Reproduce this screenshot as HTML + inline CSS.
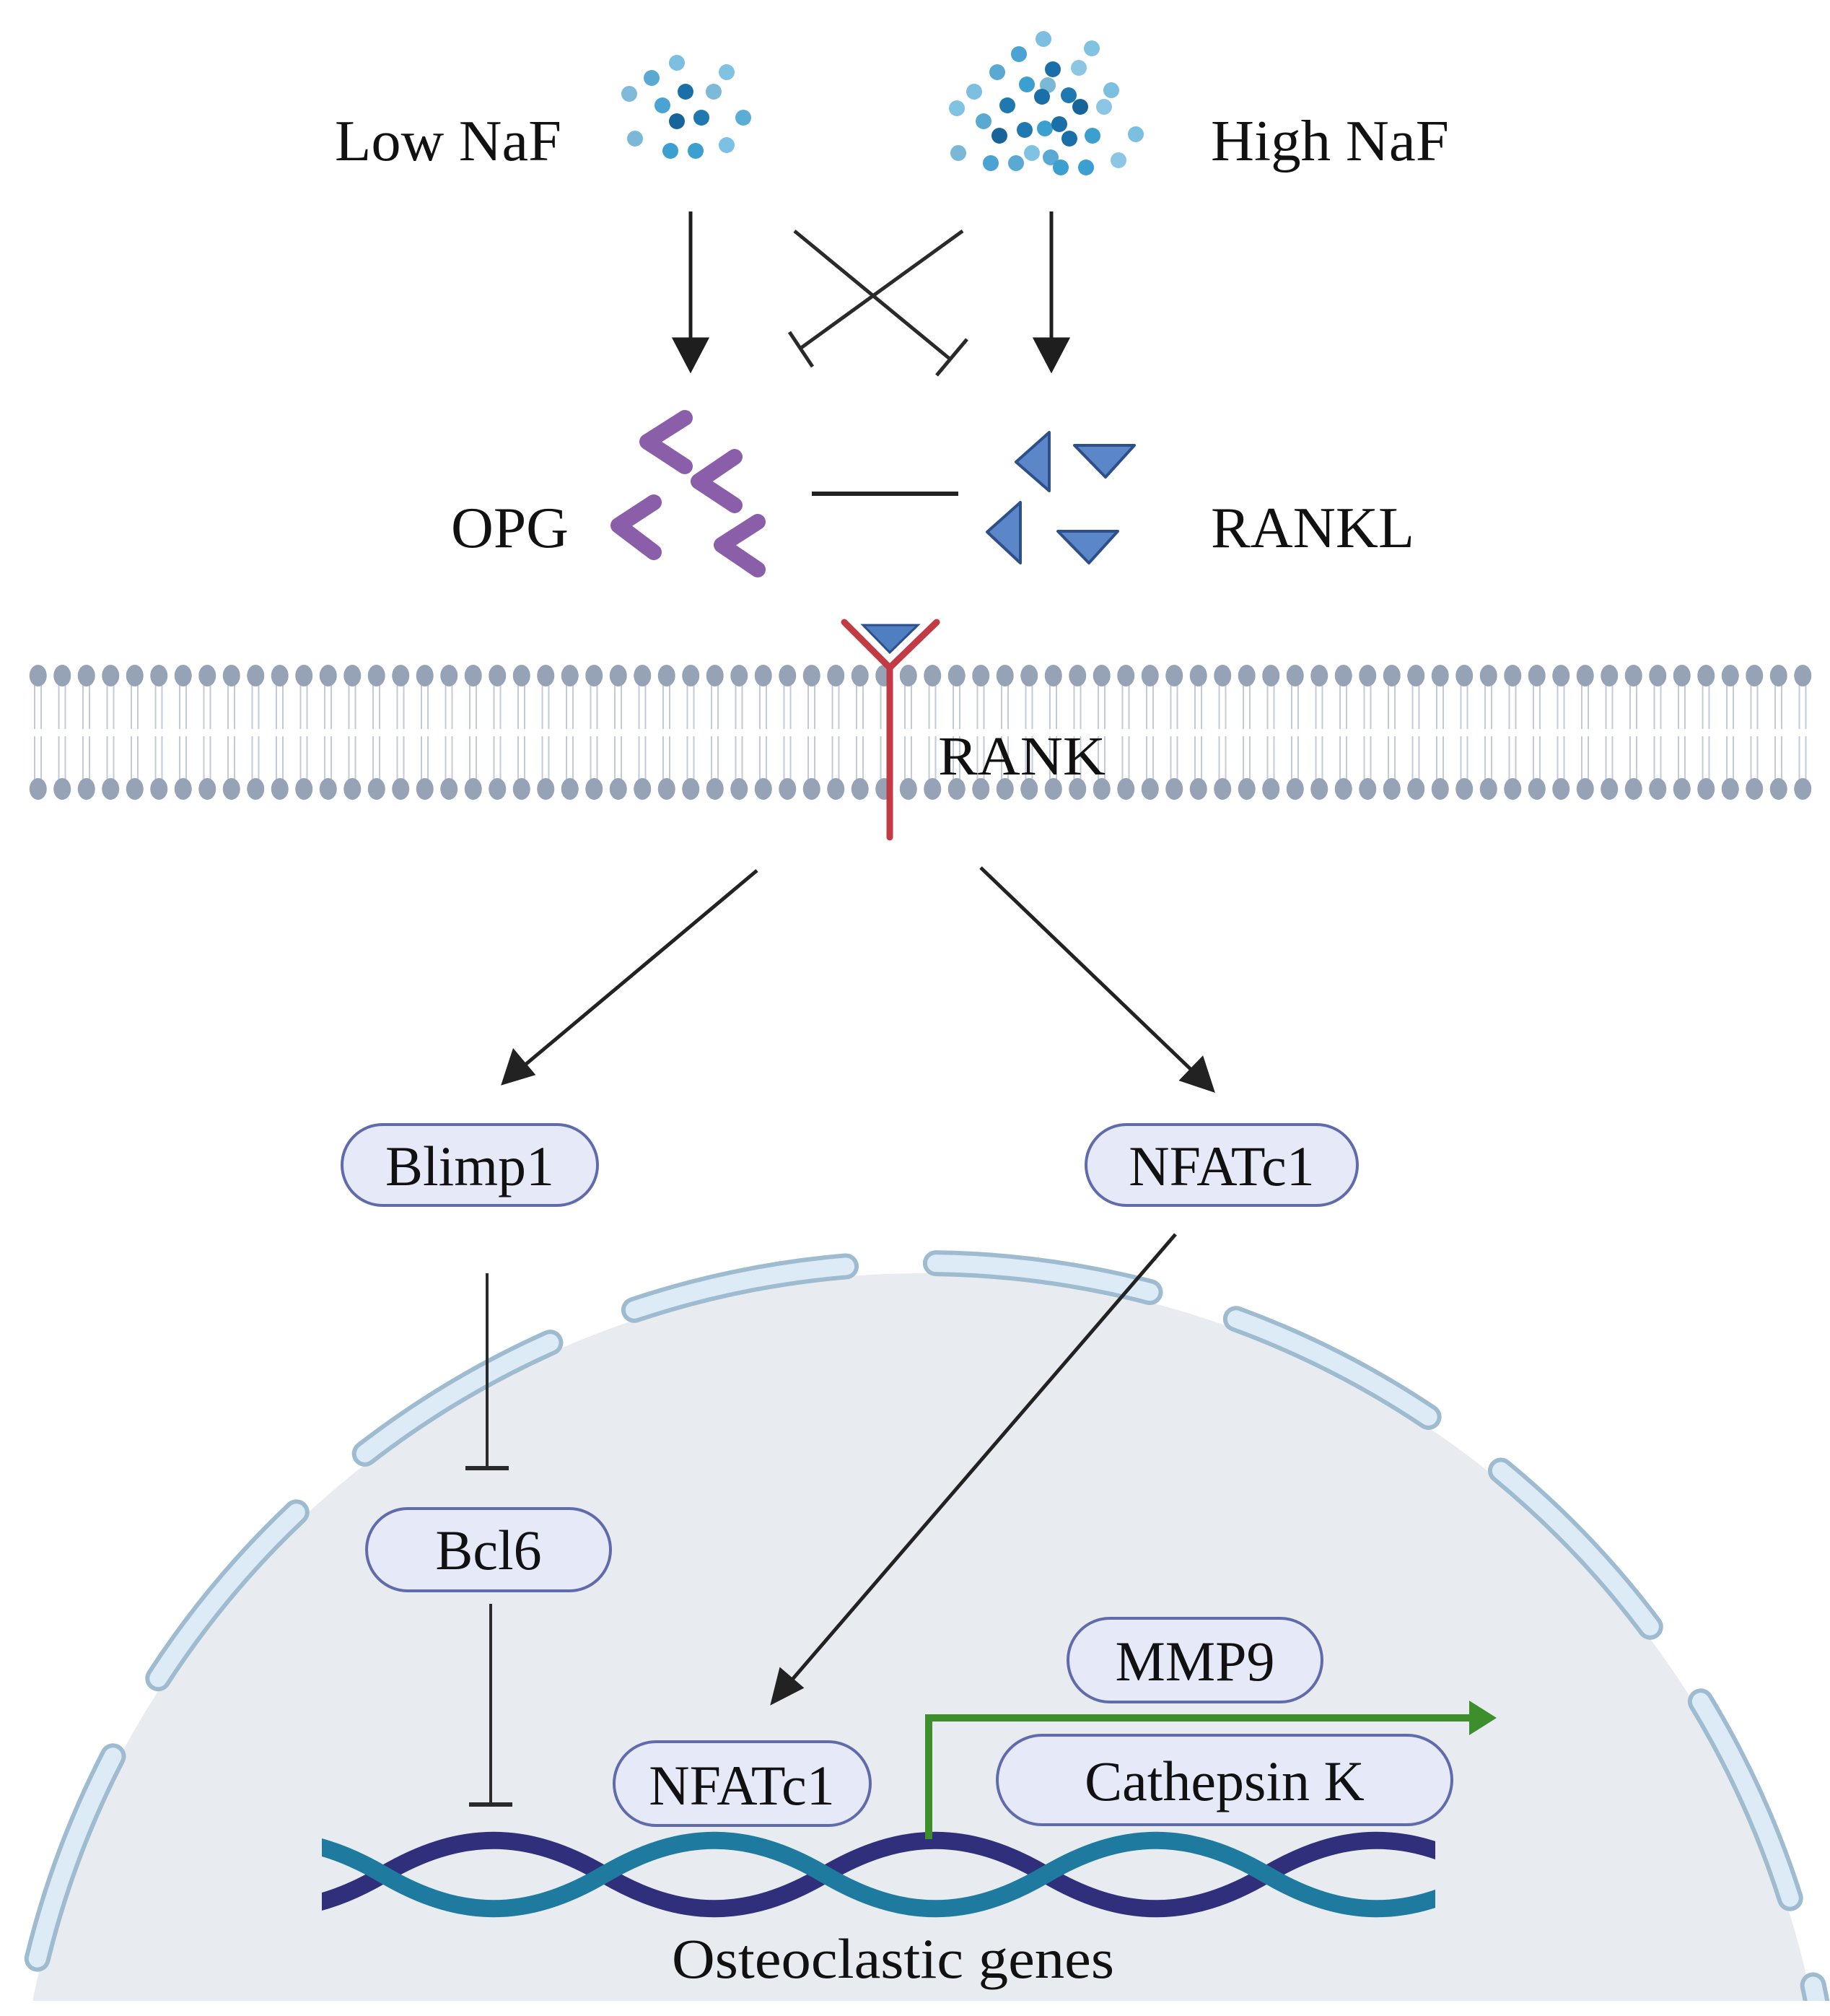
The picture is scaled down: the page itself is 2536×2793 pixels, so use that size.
<!DOCTYPE html>
<html><head><meta charset="utf-8"><style>
html,body{margin:0;padding:0;background:#fff;overflow:hidden;width:2536px;height:2793px;}
svg{display:block;}
text{font-family:"Liberation Serif",serif;fill:#111;}
</style></head><body>
<svg width="2536" height="2793" viewBox="0 0 2536 2793" xmlns="http://www.w3.org/2000/svg">
<defs>
<pattern id="mem" x="36" y="900" width="33.5" height="230" patternUnits="userSpaceOnUse">
<line x1="12" y1="40" x2="12" y2="110" stroke="#c3cad8" stroke-width="2"/>
<line x1="21" y1="40" x2="21" y2="110" stroke="#c3cad8" stroke-width="2"/>
<line x1="12" y1="120" x2="12" y2="190" stroke="#c3cad8" stroke-width="2"/>
<line x1="21" y1="120" x2="21" y2="190" stroke="#c3cad8" stroke-width="2"/>
<ellipse cx="16.75" cy="36" rx="12" ry="15" fill="#96a3b7"/>
<ellipse cx="16.75" cy="193" rx="12" ry="15" fill="#96a3b7"/>
</pattern>
<clipPath id="bot"><rect x="0" y="0" width="2536" height="2772"/></clipPath>
<clipPath id="dna"><rect x="446" y="2500" width="1543" height="200"/></clipPath>
</defs>

<!-- Nucleus -->
<g clip-path="url(#bot)">
<circle cx="1278" cy="3022" r="1258" fill="#e8ecf1"/>
<circle cx="1278" cy="3012" r="1262" fill="none" stroke="#9fbbd0" stroke-width="36" stroke-dasharray="300 125" stroke-dashoffset="266.5" stroke-linecap="round" transform="rotate(90 1278 3012)"/>
<circle cx="1278" cy="3012" r="1262" fill="none" stroke="#dcebf6" stroke-width="24" stroke-dasharray="300 125" stroke-dashoffset="266.5" stroke-linecap="round" transform="rotate(90 1278 3012)"/>
</g>

<!-- Membrane -->
<rect x="36" y="905" width="2475" height="205" fill="url(#mem)"/>

<!-- NaF dots low -->
<g>
<circle cx="938" cy="87" r="11" fill="#7cbfe0"/>
<circle cx="903" cy="108" r="11" fill="#5aa9d3"/>
<circle cx="1007" cy="100" r="11" fill="#80c2e2"/>
<circle cx="872" cy="130" r="11" fill="#7fbbd8"/>
<circle cx="950" cy="127" r="11" fill="#1b6fa8"/>
<circle cx="989" cy="127" r="11" fill="#7dbad8"/>
<circle cx="918" cy="146" r="11" fill="#4aa3d2"/>
<circle cx="938" cy="168" r="11" fill="#17649a"/>
<circle cx="972" cy="163" r="11" fill="#1f78b0"/>
<circle cx="1030" cy="163" r="11" fill="#5aaed6"/>
<circle cx="880" cy="192" r="11" fill="#7ab8d6"/>
<circle cx="929" cy="209" r="11" fill="#3b9fd0"/>
<circle cx="964" cy="209" r="11" fill="#3b9fd0"/>
<circle cx="1007" cy="201" r="11" fill="#7cc0e3"/>
</g>
<!-- NaF dots high -->
<g>
<circle cx="1446" cy="54" r="11" fill="#7cbfe0"/>
<circle cx="1513" cy="67" r="11" fill="#80c2e2"/>
<circle cx="1412" cy="75" r="11" fill="#4aa3d2"/>
<circle cx="1459" cy="96" r="11" fill="#1b6fa8"/>
<circle cx="1495" cy="94" r="11" fill="#8cc6e4"/>
<circle cx="1382" cy="100" r="11" fill="#5aa9d3"/>
<circle cx="1350" cy="127" r="11" fill="#7cbfe0"/>
<circle cx="1423" cy="117" r="11" fill="#3b9fd0"/>
<circle cx="1452" cy="118" r="11" fill="#7ab8d6"/>
<circle cx="1396" cy="146" r="11" fill="#1f78b0"/>
<circle cx="1444" cy="134" r="11" fill="#1b6fa8"/>
<circle cx="1481" cy="132" r="11" fill="#1f78b0"/>
<circle cx="1497" cy="148" r="11" fill="#17649a"/>
<circle cx="1540" cy="125" r="11" fill="#7cbfe0"/>
<circle cx="1530" cy="148" r="11" fill="#8cc6e4"/>
<circle cx="1363" cy="168" r="11" fill="#5aa9d3"/>
<circle cx="1385" cy="188" r="11" fill="#17649a"/>
<circle cx="1420" cy="180" r="11" fill="#1f78b0"/>
<circle cx="1448" cy="178" r="11" fill="#3b9fd0"/>
<circle cx="1468" cy="172" r="11" fill="#1b6fa8"/>
<circle cx="1482" cy="192" r="11" fill="#1b6fa8"/>
<circle cx="1514" cy="188" r="11" fill="#3b9fd0"/>
<circle cx="1574" cy="186" r="11" fill="#7cbfe0"/>
<circle cx="1326" cy="150" r="11" fill="#80c2e2"/>
<circle cx="1328" cy="212" r="11" fill="#7ab8d6"/>
<circle cx="1373" cy="226" r="11" fill="#4aa3d2"/>
<circle cx="1408" cy="226" r="11" fill="#5aa9d3"/>
<circle cx="1430" cy="212" r="11" fill="#80c2e2"/>
<circle cx="1456" cy="218" r="11" fill="#5aa9d3"/>
<circle cx="1470" cy="232" r="11" fill="#3b9fd0"/>
<circle cx="1505" cy="232" r="11" fill="#3b9fd0"/>
<circle cx="1550" cy="222" r="11" fill="#8cc6e4"/>
</g>

<!-- Labels top -->
<text x="464" y="222" font-size="80" textLength="314" lengthAdjust="spacingAndGlyphs">Low NaF</text>
<text x="1678" y="222" font-size="80" textLength="330" lengthAdjust="spacingAndGlyphs">High NaF</text>

<!-- arrows down -->
<g stroke="#1e1e1e" stroke-width="5" fill="#1e1e1e">
<line x1="957" y1="293" x2="957" y2="480"/>
<polygon points="935,470 979,470 957,512"/>
<line x1="1457" y1="293" x2="1457" y2="480"/>
<polygon points="1435,470 1479,470 1457,512"/>
</g>
<!-- inhibition cross -->
<g stroke="#2a2a2a" stroke-width="5" fill="none">
<line x1="1101" y1="320" x2="1316" y2="497"/>
<line x1="1298" y1="520" x2="1340" y2="470"/>
<line x1="1334" y1="320" x2="1110" y2="482"/>
<line x1="1094" y1="460" x2="1126" y2="508"/>
</g>

<!-- OPG chevrons -->
<g stroke="#8a5ea8" stroke-width="22" stroke-linecap="round" stroke-linejoin="round" fill="none">
<polyline points="949,579 897,612 949,646"/>
<polyline points="1018,633 968,667 1018,700"/>
<polyline points="906,696 857,728 906,765"/>
<polyline points="1050,723 1000,755 1050,789"/>
</g>
<line x1="1125" y1="684" x2="1328" y2="684" stroke="#222" stroke-width="6"/>
<!-- RANKL triangles -->
<g fill="#5b87c9" stroke="#2d4f8a" stroke-width="4" stroke-linejoin="round">
<polygon points="1408,640 1454,599 1454,680"/>
<polygon points="1489,617 1572,617 1532,661"/>
<polygon points="1368,737 1414,696 1414,780"/>
<polygon points="1466,736 1549,736 1509,780"/>
</g>
<text x="625" y="758" font-size="80" textLength="163" lengthAdjust="spacingAndGlyphs">OPG</text>
<text x="1678" y="758" font-size="80" textLength="282" lengthAdjust="spacingAndGlyphs">RANKL</text>

<!-- RANK receptor -->
<polygon points="1196,866 1272,866 1233,904" fill="#4f7fc0" stroke="#2d4f8a" stroke-width="3"/>
<g stroke="#c23a44" stroke-width="9" fill="none" stroke-linecap="round">
<polyline points="1170,862 1233,925 1298,862"/>
<line x1="1233" y1="925" x2="1233" y2="1160"/>
</g>
<text x="1300" y="1073" font-size="76" textLength="232" lengthAdjust="spacingAndGlyphs">RANK</text>

<!-- arrows from RANK -->
<g stroke="#222" stroke-width="5" fill="#222">
<line x1="1049" y1="1206" x2="722" y2="1480"/>
<polygon points="698,1500 712,1457 738,1488"/>
<line x1="1359" y1="1202" x2="1656" y2="1487"/>
<polygon points="1680,1510 1638,1496 1666,1467"/>
</g>

<!-- Boxes -->
<g fill="#e6e9f8" stroke="#5f6bab" stroke-width="4">
<rect x="474" y="1558" width="354" height="112" rx="56"/>
<rect x="1505" y="1558" width="376" height="112" rx="56"/>
<rect x="508" y="2090" width="338" height="114" rx="57"/>
<rect x="1480" y="2242" width="352" height="116" rx="58"/>
<rect x="851" y="2413" width="355" height="116" rx="58"/>
<rect x="1382" y="2404" width="630" height="124" rx="62"/>
</g>
<g font-size="78" text-anchor="middle">
<text x="651" y="1642">Blimp1</text>
<text x="1693" y="1642">NFATc1</text>
<text x="677" y="2174">Bcl6</text>
<text x="1656" y="2328">MMP9</text>
<text x="1028" y="2500">NFATc1</text>
<text x="1697" y="2494">Cathepsin K</text>
</g>

<!-- inhibition lines -->
<g stroke="#2a2a2a" stroke-width="4">
<line x1="675" y1="1764" x2="675" y2="2034"/>
<line x1="645" y1="2034" x2="705" y2="2034" stroke-width="6"/>
<line x1="680" y1="2222" x2="680" y2="2500"/>
<line x1="650" y1="2500" x2="710" y2="2500" stroke-width="6"/>
</g>
<!-- NFATc1 into nucleus -->
<g stroke="#222" stroke-width="5" fill="#222">
<line x1="1629" y1="1710" x2="1090" y2="2336"/>
<polygon points="1071,2358 1082,2314 1110,2338"/>
</g>

<!-- DNA -->
<g clip-path="url(#dna)" fill="none" stroke-width="24">
<path stroke="#2f2f7c" d="M225 2597 C332 2660 424 2660 531 2597 C638 2534 730 2534 837 2597 C944 2660 1036 2660 1143 2597 C1250 2534 1342 2534 1449 2597 C1556 2660 1648 2660 1755 2597 C1862 2534 1954 2534 2061 2597"/>
<path stroke="#1f7aa0" d="M225 2597 C332 2534 424 2534 531 2597 C638 2660 730 2660 837 2597 C944 2534 1036 2534 1143 2597 C1250 2660 1342 2660 1449 2597 C1556 2534 1648 2534 1755 2597 C1862 2660 1954 2660 2061 2597"/>
</g>
<!-- green arrow -->
<polyline points="1287,2548 1287,2380 2042,2380" fill="none" stroke="#3d8f2b" stroke-width="10"/>
<polygon points="2036,2356 2074,2380 2036,2404" fill="#3d8f2b"/>

<text x="931" y="2740" font-size="78" textLength="613" lengthAdjust="spacingAndGlyphs">Osteoclastic genes</text>
</svg>
</body></html>
